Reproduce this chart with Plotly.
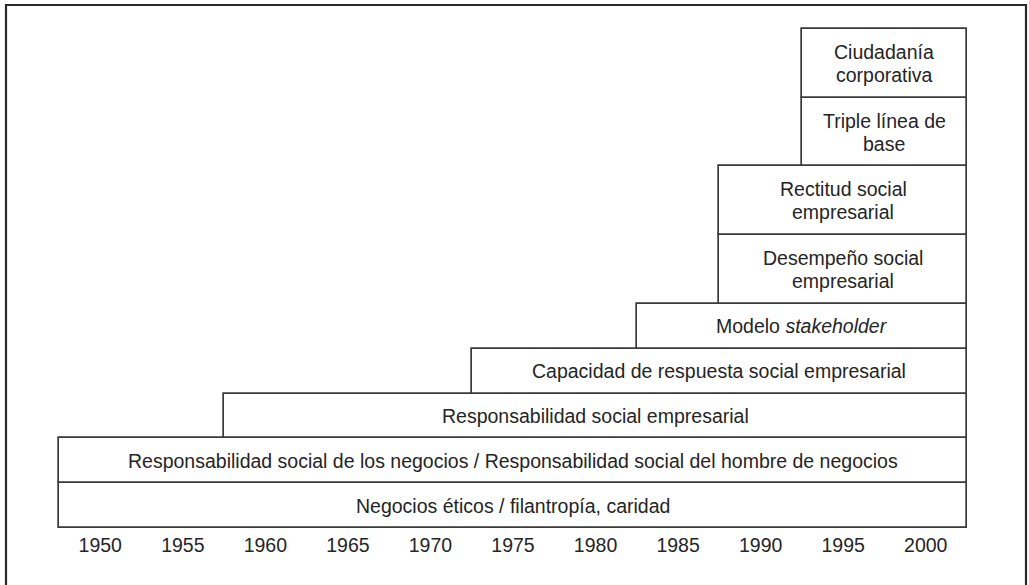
import plotly.graph_objects as go

# Data (bottom row first)
labels = [
    "Negocios éticos / filantropía, caridad",
    "Responsabilidad social de los negocios / Responsabilidad social del hombre de negocios",
    "Responsabilidad social empresarial",
    "Capacidad de respuesta social empresarial",
    "Modelo <i>stakeholder</i>",
    "Desempeño social<br>empresarial",
    "Rectitud social<br>empresarial",
    "Triple línea de<br>base",
    "Ciudadanía<br>corporativa",
]
start_year = [1947.5, 1947.5, 1957.5, 1972.5, 1982.5, 1987.5, 1987.5, 1992.5, 1992.5]
end_year = [2002.5] * 9
tick_years = [1950, 1955, 1960, 1965, 1970, 1975, 1980, 1985, 1990, 1995, 2000]
tick_text = [str(y) for y in tick_years]

# Row heights derived from number of text lines
heights = [1.0 if "<br>" not in t else 1.533 for t in labels]
centers = []
acc = 0.0
for h in heights:
    centers.append(acc + h / 2)
    acc += h
total = acc

FONT = "Liberation Sans, Arial, Helvetica, sans-serif"
LINE = "#3a3a3a"
TXT = "#252525"
FS = 19.5
LINE_GAP = 23

W, H = 1029, 585
# region occupied by the bars (page pixels)
bx0, bx1, by0, by1 = 59, 967, 29, 528
pad = 3
ml, mr, mt, mb = bx0 - pad, W - bx1 - pad, by0 - pad, H - by1 - pad
pw = W - ml - mr
ph = H - mt - mb
kx = (bx1 - bx0) / (end_year[0] - start_year[0])
ky = (by1 - by0) / total

fig = go.Figure()
fig.add_trace(go.Bar(
    orientation="h",
    y=centers,
    x=[e - s for s, e in zip(start_year, end_year)],
    base=start_year,
    width=heights,
    marker=dict(color="white", line=dict(color=LINE, width=1.7)),
    hoverinfo="skip",
    showlegend=False,
))

for lab, s, e, c in zip(labels, start_year, end_year, centers):
    parts = lab.split("<br>")
    n = len(parts)
    for i, part in enumerate(parts):
        shift = ((n - 1) / 2 - i) * LINE_GAP
        fig.add_annotation(x=(s + e) / 2, y=c, text=part, showarrow=False,
                           xref="x", yref="y", yshift=shift,
                           font=dict(family=FONT, size=FS, color=TXT))

# Outer frame (paper coordinates)
fig.add_shape(type="rect", xref="paper", yref="paper",
              x0=(6 - ml) / pw, x1=(1026 - ml) / pw,
              y0=-0.3, y1=(H - mb - 5) / ph,
              line=dict(color="#2a2a2a", width=2.2), layer="below")

fig.update_layout(
    width=W, height=H,
    margin=dict(l=ml, r=mr, t=mt, b=mb),
    paper_bgcolor="white", plot_bgcolor="white",
    bargap=0,
    hovermode=False,
    xaxis=dict(range=[start_year[0] - pad / kx, end_year[0] + pad / kx],
               tickvals=tick_years, ticktext=tick_text,
               showgrid=False, zeroline=False, showline=False, ticks="",
               tickfont=dict(family=FONT, size=FS, color=TXT), fixedrange=True),
    yaxis=dict(range=[-pad / ky, total + pad / ky], visible=False, fixedrange=True),
)

fig.write_html("out.html", config={"displayModeBar": False},
               post_script="document.body.style.margin='0';document.body.style.overflow='hidden';")
